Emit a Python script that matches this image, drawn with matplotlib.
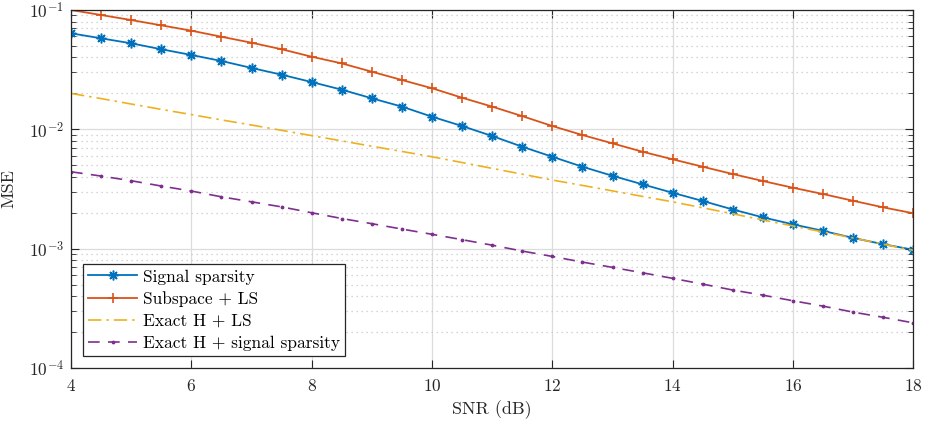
import matplotlib
matplotlib.use("Agg")
import matplotlib.pyplot as plt
from matplotlib.ticker import LogLocator, NullFormatter

plt.rcParams['font.family'] = 'serif'
plt.rcParams['font.serif'] = ['cmr10', 'DejaVu Serif']
plt.rcParams['mathtext.fontset'] = 'cm'
plt.rcParams['axes.formatter.use_mathtext'] = True
plt.rcParams['axes.unicode_minus'] = False

snr = [4, 4.5, 5, 5.5, 6, 6.5, 7, 7.5, 8, 8.5, 9, 9.5, 10, 10.5, 11, 11.5,
       12, 12.5, 13, 13.5, 14, 14.5, 15, 15.5, 16, 16.5, 17, 17.5, 18]

signal_sparsity = [0.0638, 0.0579, 0.0526, 0.0469, 0.0420, 0.0374, 0.0327, 0.0287,
                   0.0249, 0.0215, 0.0182, 0.0155, 0.01276, 0.01066, 0.00879, 0.00715,
                   0.00589, 0.00486, 0.00408, 0.00346, 0.00294, 0.00251, 0.00213,
                   0.00183, 0.00160, 0.00141, 0.00123, 0.00109, 0.00098]

subspace_ls = [0.1000, 0.0908, 0.0824, 0.0744, 0.0671, 0.0597, 0.0532, 0.0469,
               0.0406, 0.0357, 0.0304, 0.0259, 0.0221, 0.0184, 0.0155, 0.0129,
               0.01066, 0.00896, 0.00763, 0.00649, 0.00561, 0.00486, 0.00422,
               0.00369, 0.00324, 0.00287, 0.00252, 0.00222, 0.00198]

exact_h_ls = [0.0200, 0.0181, 0.0163, 0.0147, 0.0133, 0.0120, 0.01087, 0.00981,
              0.00886, 0.00800, 0.00722, 0.00653, 0.00589, 0.00527, 0.00471, 0.00421,
              0.00376, 0.00339, 0.00305, 0.00274, 0.00247, 0.00220, 0.00196,
              0.00174, 0.00155, 0.00138, 0.00123, 0.00109, 0.00097]

exact_h_sparsity = [0.00441, 0.00406, 0.00371, 0.00335, 0.00304, 0.00272, 0.00247,
                    0.00224, 0.00200, 0.00179, 0.00162, 0.00146, 0.00132, 0.00119,
                    0.00107, 0.000955, 0.000861, 0.000772, 0.000697, 0.000628,
                    0.000564, 0.000505, 0.000450, 0.000408, 0.000366, 0.000330,
                    0.000294, 0.000266, 0.000239]

labels = ['Signal sparsity', 'Subspace + LS', 'Exact H + LS', 'Exact H + signal sparsity']
xticks = [4, 6, 8, 10, 12, 14, 16, 18]

fig = plt.figure(figsize=(9.25, 4.24), dpi=100)
ax = fig.add_axes([0.0768, 0.132, 0.9106, 0.8444])

ax.plot(snr, signal_sparsity, color='#0072BD', lw=1.3, marker=(8, 2, 0), ms=7,
        mew=1.1, label=labels[0])
ax.plot(snr, subspace_ls, color='#D95319', lw=1.3, marker='+', ms=7.5, mew=1.2,
        label=labels[1])
ax.plot(snr, exact_h_ls, color='#EDB120', lw=1.2, ls=(0, (8, 3, 1.5, 3)),
        label=labels[2])
ax.plot(snr, exact_h_sparsity, color='#7E2F8E', lw=1.2, ls=(0, (7, 5)), marker='.',
        ms=3.5, label=labels[3])

ax.set_yscale('log')
ax.set_xlim(4, 18)
ax.set_ylim(1e-4, 1e-1)
ax.set_xticks(xticks)
ax.yaxis.set_major_locator(LogLocator(base=10, numticks=10))
ax.yaxis.set_minor_locator(LogLocator(base=10, subs=range(2, 10), numticks=20))
ax.yaxis.set_minor_formatter(NullFormatter())

ax.grid(True, which='major', color='#dcdcdc', lw=0.9, ls='-')
ax.grid(True, which='minor', axis='y', color='#c8c8c8', lw=0.9, ls=(0, (1, 3)))
ax.set_axisbelow(True)

for s in ax.spines.values():
    s.set_color('#262626')
    s.set_linewidth(0.9)
ax.tick_params(which='both', direction='in', top=True, right=True, colors='#262626',
               labelsize=12.5)
ax.tick_params(which='major', length=6)
ax.tick_params(which='minor', length=3.5)
ax.tick_params(axis='x', pad=7)
ax.tick_params(axis='y', pad=5)

ax.set_xlabel('SNR (dB)', fontsize=13, color='#262626', labelpad=5)
ax.set_ylabel('MSE', fontsize=13, color='#262626', labelpad=9)

leg = ax.legend(loc='lower left', bbox_to_anchor=(0.0143, 0.0335), borderaxespad=0,
                fontsize=12.5, fancybox=False, framealpha=1, edgecolor='#262626',
                handlelength=2.8, handletextpad=0.35, labelspacing=0.38,
                borderpad=0.3)
leg.get_frame().set_linewidth(0.9)

fig.savefig('out.png', dpi=100)
